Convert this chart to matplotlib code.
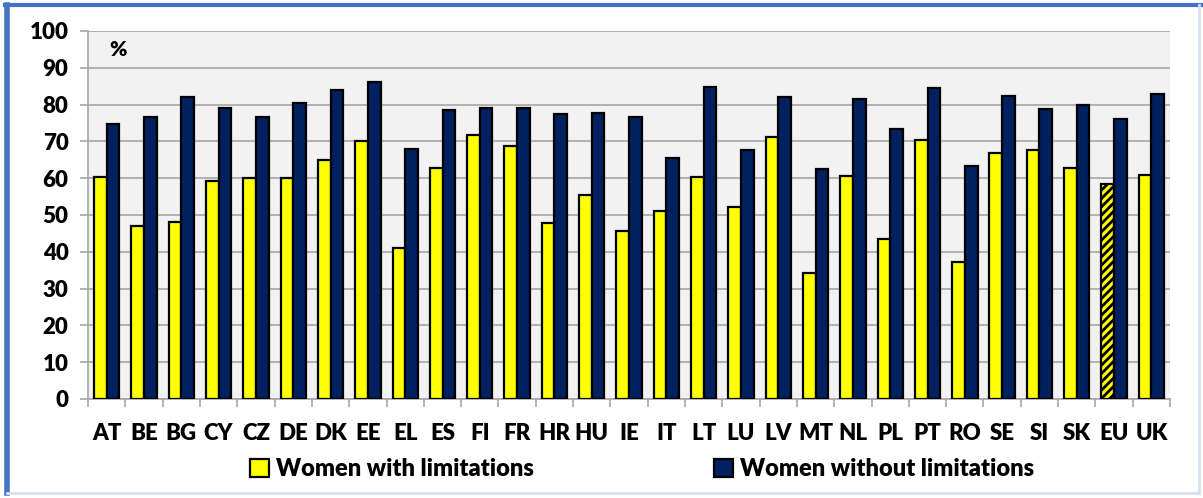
import numpy as np
import matplotlib.pyplot as plt
from matplotlib.patches import Patch
from matplotlib.lines import Line2D

countries = ['AT', 'BE', 'BG', 'CY', 'CZ', 'DE', 'DK', 'EE', 'EL', 'ES', 'FI', 'FR', 'HR', 'HU', 'IE',
             'IT', 'LT', 'LU', 'LV', 'MT', 'NL', 'PL', 'PT', 'RO', 'SE', 'SI', 'SK', 'EU', 'UK']
with_limitations = [60.3, 47.0, 48.0, 59.2, 60.0, 60.0, 65.0, 70.0, 41.0, 62.7, 71.8, 68.7, 47.8, 55.5, 45.7,
                    51.0, 60.3, 52.3, 71.2, 34.2, 60.6, 43.6, 70.4, 37.3, 66.8, 67.6, 62.7, 58.5, 61.0]
without_limitations = [74.7, 76.7, 82.0, 79.2, 76.7, 80.5, 84.0, 86.0, 68.0, 78.5, 79.2, 79.2, 77.5, 77.8, 76.7,
                       65.6, 84.7, 67.7, 82.0, 62.4, 81.6, 73.3, 84.4, 63.2, 82.3, 78.8, 79.9, 76.0, 83.0]
y_ticks = list(range(0, 101, 10))

YELLOW = '#FFFF00'
NAVY = '#002060'

plt.rcParams['font.family'] = ['Lato', 'DejaVu Sans']
plt.rcParams['hatch.linewidth'] = 2.0

fig = plt.figure(figsize=(12.03, 4.98), dpi=100)
ax = fig.add_axes([0.0732, 0.1988, 0.8994, 0.739])

x = np.arange(len(countries))
w = 0.34
bars_y = ax.bar(x - w / 2, with_limitations, w, color=YELLOW, edgecolor='black', linewidth=1.6, zorder=3)
ax.bar(x + w / 2, without_limitations, w, color=NAVY, edgecolor='black', linewidth=1.6, zorder=3)

# EU average is hatched
eu = countries.index('EU')
bars_y[eu].set_hatch('////')

ax.set_facecolor('#F2F2F2')
ax.set_xlim(-0.5, len(countries) - 0.5)
ax.set_ylim(0, 100)
ax.set_yticks(y_ticks)
ax.grid(axis='y', color='#A6A6A6', linewidth=1.2, zorder=0)
ax.set_axisbelow(True)

ax.set_xticks(x)
ax.set_xticklabels(countries, fontsize=16, fontweight='heavy')
ax.set_xticks(np.arange(-0.5, len(countries)), minor=True)
ax.tick_params(axis='x', which='major', length=0, pad=17)
ax.tick_params(axis='x', which='minor', length=6, color='#A6A6A6', width=1.2)
ax.tick_params(axis='y', length=6, color='#A6A6A6', width=1.2, labelsize=16, pad=8)
for lab in ax.get_yticklabels():
    lab.set_fontweight('heavy')

for side in ['top', 'right']:
    ax.spines[side].set_visible(False)
for side in ['left', 'bottom']:
    ax.spines[side].set_color('#A6A6A6')
    ax.spines[side].set_linewidth(1.2)

ax.text(0.02, 0.975, '%', transform=ax.transAxes, fontsize=15, fontweight='heavy', va='top', ha='left')

handles = [Patch(facecolor=YELLOW, edgecolor='black', linewidth=1.6, label='Women with limitations'),
           Patch(facecolor=NAVY, edgecolor='black', linewidth=1.6, label='Women without limitations')]
ax.legend(handles=handles, loc='upper center', bbox_to_anchor=(0.512, -0.115), ncol=2, frameon=False,
          prop={'size': 17, 'weight': 'heavy'}, columnspacing=7.6, handlelength=0.8, handleheight=0.8,
          handletextpad=0.3, borderpad=0.2)

# outer frame of the chart
fig.add_artist(Line2D([0.006, 0.006], [0.01, 0.99], transform=fig.transFigure, color='#4472C4', linewidth=4))
fig.add_artist(Line2D([0.004, 1.0], [0.99, 0.99], transform=fig.transFigure, color='#4472C4', linewidth=3))
fig.add_artist(Line2D([0.006, 0.997], [0.01, 0.01], transform=fig.transFigure, color='#D6E0F0', linewidth=2))
fig.add_artist(Line2D([0.997, 0.997], [0.01, 0.99], transform=fig.transFigure, color='#D6E0F0', linewidth=2))

fig.savefig('out.png', dpi=100)
